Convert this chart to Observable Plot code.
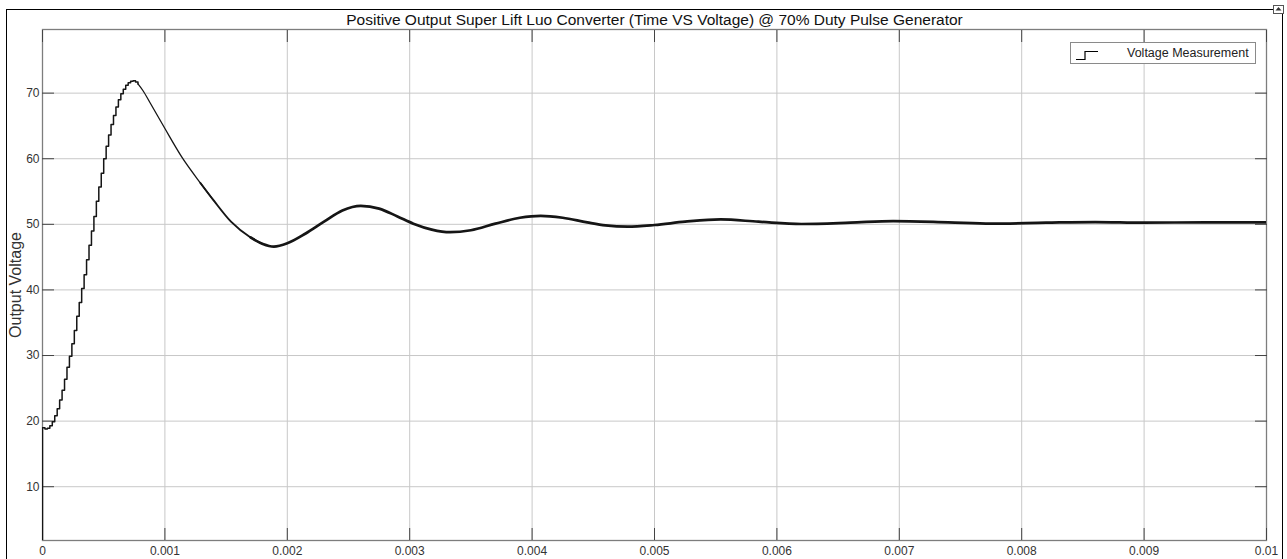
<!DOCTYPE html>
<html>
<head>
<meta charset="utf-8">
<script src="https://cdn.jsdelivr.net/npm/d3@7"></script>
<script src="https://cdn.jsdelivr.net/npm/@observablehq/plot@0.6"></script>
<style>
  body { margin: 0; background: #fff; font-family: "Liberation Sans", Arial, sans-serif; }
  #wrap { position: relative; width: 1287px; height: 559px; overflow: hidden; }
  #border { position: absolute; left: 6px; top: 9px; width: 1277px; height: 600px; border: 1.5px solid #000; box-sizing: border-box; }
  #chart { position: absolute; left: 0; top: 0; }
  #legend { position: absolute; left: 1070px; top: 42px; width: 186px; height: 22px; border: 1px solid #8a8a8a; background: #fff; box-sizing: border-box; font-size: 12.5px; color: #222; }
  #legend svg { position: absolute; left: 0; top: 0; }
  #legend span { position: absolute; left: 56px; top: 3px; white-space: nowrap; }
  #corner { position: absolute; left: 1273px; top: 5px; }
</style>
</head>
<body>
<div id="wrap">
  <div id="border"></div>
  <div id="chart"></div>
  <div id="legend">
    <svg width="34" height="20"><path d="M5,16.5H14V8.5H27" fill="none" stroke="#000" stroke-width="1.2"/></svg>
    <span>Voltage Measurement</span>
  </div>
  <svg id="corner" width="12" height="10"><rect x="0.5" y="0.5" width="10" height="8" fill="#fff" stroke="#555"/><path d="M5.5,2L2.5,5.5H8.5Z" fill="#333"/></svg>
</div>
<script>
// ---- data ----
const titleText = "Positive Output Super Lift Luo Converter (Time VS Voltage) @ 70% Duty Pulse Generator";
const yLabelText = "Output Voltage";
const legendText = "Voltage Measurement";

// start-up staircase (time in microseconds, voltage in V)
const riseTimeUs = [0, 0, 20, 40, 60, 80, 100, 120, 140, 160, 180, 200, 220, 240, 260, 280, 300, 320, 340, 360, 380,
  400, 420, 440, 460, 480, 500, 520, 540, 560, 580, 600, 620, 640, 660, 680, 700, 720, 740, 760, 780];
const riseVolt = [0, 19.0, 18.8, 18.9, 19.3, 19.9, 20.8, 21.9, 23.2, 24.7, 26.4, 28.2, 29.9, 31.8, 33.8, 36.0, 38.1, 40.2, 42.3, 44.6, 46.8,
  49.0, 51.2, 53.5, 55.7, 57.8, 60.0, 61.9, 63.6, 65.2, 66.6, 67.9, 69.0, 69.9, 70.6, 71.2, 71.6, 71.8, 71.9, 71.7, 71.4];

// damped settling (time in microseconds, voltage in V)
const settleTimeUs = [780, 820, 880, 1000, 1140, 1290, 1400, 1540, 1700, 1800, 1890, 2000, 2150, 2300, 2450, 2600, 2750, 2900,
  3030, 3180, 3330, 3500, 3700, 3900, 4070, 4250, 4450, 4600, 4780, 5000, 5250, 5540, 5850, 6200, 6600, 6950, 7400, 7750,
  8200, 8600, 9000, 9500, 10000];
const settleVolt = [71.4, 70.4, 68.5, 64.6, 60.2, 56.3, 53.6, 50.4, 48.0, 47.0, 46.6, 47.1, 48.6, 50.4, 52.1, 52.8, 52.4, 51.2,
  50.1, 49.2, 48.8, 49.1, 50.1, 51.0, 51.3, 51.0, 50.3, 49.85, 49.65, 49.9, 50.4, 50.75, 50.4, 50.05, 50.25, 50.5, 50.3, 50.1,
  50.25, 50.35, 50.25, 50.3, 50.3];

const xTicks = [0, 0.001, 0.002, 0.003, 0.004, 0.005, 0.006, 0.007, 0.008, 0.009, 0.01];
const xTickLabels = ["0", "0.001", "0.002", "0.003", "0.004", "0.005", "0.006", "0.007", "0.008", "0.009", "0.01"];
const yTicks = [10, 20, 30, 40, 50, 60, 70];
const yTickLabels = ["10", "20", "30", "40", "50", "60", "70"];

// ---- build tables ----
const rise = riseTimeUs.map((t, i) => ({t: t / 1e6, v: riseVolt[i]}));
const settle = settleTimeUs.map((t, i) => ({t: t / 1e6, v: settleVolt[i]}));
const s1 = settle.filter(d => d.t <= 1400e-6);
const s2 = settle.filter(d => d.t >= 1290e-6 && d.t <= 1800e-6);
const s3 = settle.filter(d => d.t >= 1700e-6);

document.querySelector("#legend span").textContent = legendText;

const tickColor = "#444";
const lineColor = "#151515";
const chart = Plot.plot({
  width: 1287,
  height: 559,
  marginLeft: 42,
  marginRight: 21,
  marginTop: 29,
  marginBottom: 19,
  style: {fontFamily: "'Liberation Sans', Arial, sans-serif", fontSize: "12px", color: "#333", background: "transparent", overflow: "visible"},
  x: {domain: [0, 0.01]},
  y: {domain: [1.8, 79.7]},
  marks: [
    Plot.gridX(xTicks, {stroke: "#c8c8c8", strokeOpacity: 1, strokeWidth: 1}),
    Plot.gridY(yTicks, {stroke: "#c8c8c8", strokeOpacity: 1, strokeWidth: 1}),
    Plot.frame({stroke: "#7d7d7d", strokeWidth: 1.3}),
    Plot.axisX(xTicks, {anchor: "bottom", tickSize: -12, tickPadding: 18, stroke: tickColor, fill: "#333", fontSize: 12,
      tickFormat: d => xTickLabels[xTicks.indexOf(d)], label: null}),
    Plot.axisX(xTicks, {anchor: "top", tickSize: -12, stroke: tickColor, tickFormat: () => "", label: null}),
    Plot.axisY(yTicks, {anchor: "left", tickSize: -12, tickPadding: 15, stroke: tickColor, fill: "#333", fontSize: 12,
      tickFormat: d => yTickLabels[yTicks.indexOf(d)], label: null}),
    Plot.axisY(yTicks, {anchor: "right", tickSize: -12, stroke: tickColor, tickFormat: () => "", label: null}),
    Plot.line(rise, {x: "t", y: "v", curve: "step-after", stroke: lineColor, strokeWidth: 1.5, clip: true}),
    Plot.line(s1, {x: "t", y: "v", curve: "monotone-x", stroke: lineColor, strokeWidth: 1.3, clip: true}),
    Plot.line(s2, {x: "t", y: "v", curve: "monotone-x", stroke: lineColor, strokeWidth: 1.9, clip: true}),
    Plot.line(s3, {x: "t", y: "v", curve: "monotone-x", stroke: lineColor, strokeWidth: 2.7, clip: true}),
    Plot.text([titleText], {frameAnchor: "top", dy: -9, fontSize: 15.5, fill: "#111", textAnchor: "middle", lineAnchor: "middle"}),
    Plot.text([yLabelText], {frameAnchor: "left", dx: -27, rotate: -90, fontSize: 16, fill: "#333", textAnchor: "middle", lineAnchor: "middle"})
  ]
});
document.getElementById("chart").appendChild(chart);
</script>
</body>
</html>
